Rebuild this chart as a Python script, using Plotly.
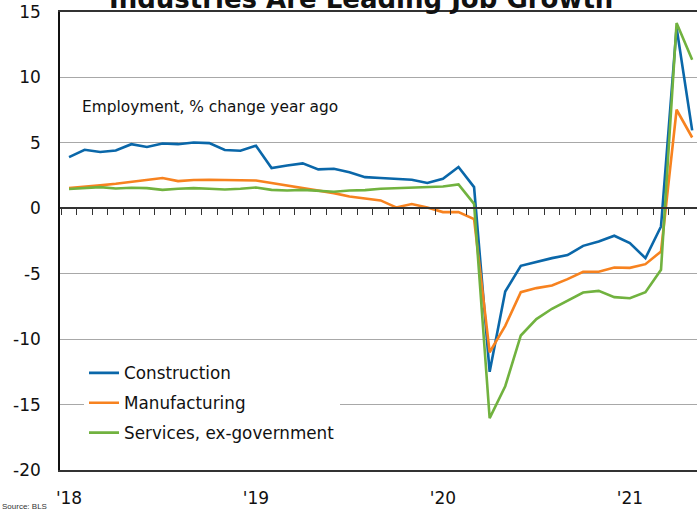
import plotly.graph_objects as go

months = [f"{y}-{m:02d}" for y in range(2018, 2022) for m in range(1, 13)][:41]
idx = list(range(len(months)))

construction = [3.91, 4.47, 4.30, 4.42, 4.90, 4.68, 4.95, 4.90, 5.03, 4.98, 4.45, 4.40,
                4.78, 3.07, 3.27, 3.43, 2.97, 3.02, 2.76, 2.38, 2.31, 2.26, 2.18, 1.93,
                2.26, 3.15, 1.62, -12.5, -6.36, -4.40, -4.09, -3.81, -3.58, -2.87, -2.54,
                -2.10, -2.66, -3.81, -1.39, 13.8, 5.95]
manufacturing = [1.54, 1.67, 1.75, 1.87, 2.00, 2.16, 2.31, 2.08, 2.16, 2.18, 2.16, 2.10,
                 2.12, 1.93, 1.75, 1.57, 1.39, 1.16, 0.90, 0.75, 0.60, 0.06, 0.32, 0.06,
                 -0.29, -0.29, -0.83, -11.0, -8.98, -6.41, -6.10, -5.90, -5.41, -4.85, -4.85,
                 -4.52, -4.55, -4.27, -3.30, 7.53, 5.41]
services = [1.47, 1.57, 1.62, 1.51, 1.57, 1.54, 1.41, 1.49, 1.54, 1.49, 1.44, 1.49,
            1.59, 1.41, 1.36, 1.41, 1.31, 1.26, 1.36, 1.39, 1.49, 1.54, 1.62, 1.62,
            1.67, 1.82, 0.34, -16.04, -13.6, -9.72, -8.47, -7.68, -7.07, -6.44, -6.31,
            -6.79, -6.87, -6.41, -4.70, 14.16, 11.35]

year_ticks = [0, 12, 24, 36]
year_labels = ["'18", "'19", "'20", "'21"]
y_ticks = [15, 10, 5, 0, -5, -10, -15, -20]
y_labels = ["15", "10", "5", "0", "-5", "-10", "-15", "-20"]
series_names = ["Construction", "Manufacturing", "Services, ex-government"]
colors = ["#0a67a9", "#f7821f", "#71b23f"]

FONT = "DejaVu Sans, Verdana, sans-serif"

fig = go.Figure()
for name, vals, c in zip(series_names, [construction, manufacturing, services], colors):
    fig.add_trace(go.Scatter(x=idx, y=vals, mode="lines", name=name,
                             line=dict(color=c, width=2.6), legendgroup=name))
# helper trace so the zero-line axis exists
fig.add_trace(go.Scatter(x=[None], y=[None], xaxis="x2", showlegend=False, hoverinfo="skip"))

xr = [-0.58, 40.31]
fig.update_layout(
    width=697, height=510,
    margin=dict(l=60, r=0, t=12, b=40),
    paper_bgcolor="white", plot_bgcolor="white",
    font=dict(family=FONT, size=16, color="#111"),
    showlegend=True,
    legend=dict(x=0.0377, y=0.25, xanchor="left", yanchor="top",
                bgcolor="white", borderwidth=0, tracegroupgap=5,
                font=dict(family=FONT, size=16.8, color="#111"), itemwidth=30),
    xaxis=dict(range=xr, tickvals=year_ticks, ticktext=year_labels, ticks="",
               showgrid=False, zeroline=False, showline=True, linecolor="#333",
               linewidth=1.5, mirror=True, ticklabelstandoff=12,
               tickfont=dict(family=FONT, size=17, color="#111")),
    xaxis2=dict(range=xr, overlaying="x", anchor="free", position=20/35,
                tickvals=[k + 0.5 for k in range(-1, 40)], ticks="outside", ticklen=6,
                tickcolor="#333", tickwidth=1, showticklabels=False, showgrid=False,
                zeroline=False, showline=True, linecolor="#333", linewidth=1.5),
    yaxis=dict(range=[-20, 15], tickvals=y_ticks, ticktext=y_labels, showgrid=True,
               gridcolor="#a8a8a8", gridwidth=1,
               zeroline=False, showline=True, linecolor="#111", linewidth=1.5,
               ticks="", ticklabelstandoff=14,
               tickfont=dict(family=FONT, size=17, color="#111")),
)

fig.add_annotation(text="<b>Industries Are Leading Job Growth</b>", xref="paper", yref="paper",
                   x=(361 - 60) / 637, y=1, xanchor="center", yanchor="bottom", yshift=-4,
                   showarrow=False, font=dict(family=FONT, size=26, color="#111"))
fig.add_annotation(text="Employment, % change year ago", xref="paper", yref="y",
                   x=(80 - 60) / 637, y=7.76, xanchor="left", yanchor="middle",
                   showarrow=False, font=dict(family=FONT, size=15.4, color="#111"))
fig.add_annotation(text="Source: BLS", xref="paper", yref="paper",
                   x=-60 / 637, y=(470 - 507) / 458, xanchor="left", yanchor="middle",
                   showarrow=False, font=dict(family="Liberation Sans, Arial", size=8, color="#333"))

fig.write_html("out.html", config={"displayModeBar": False},
               post_script="document.body.style.margin='0';")
